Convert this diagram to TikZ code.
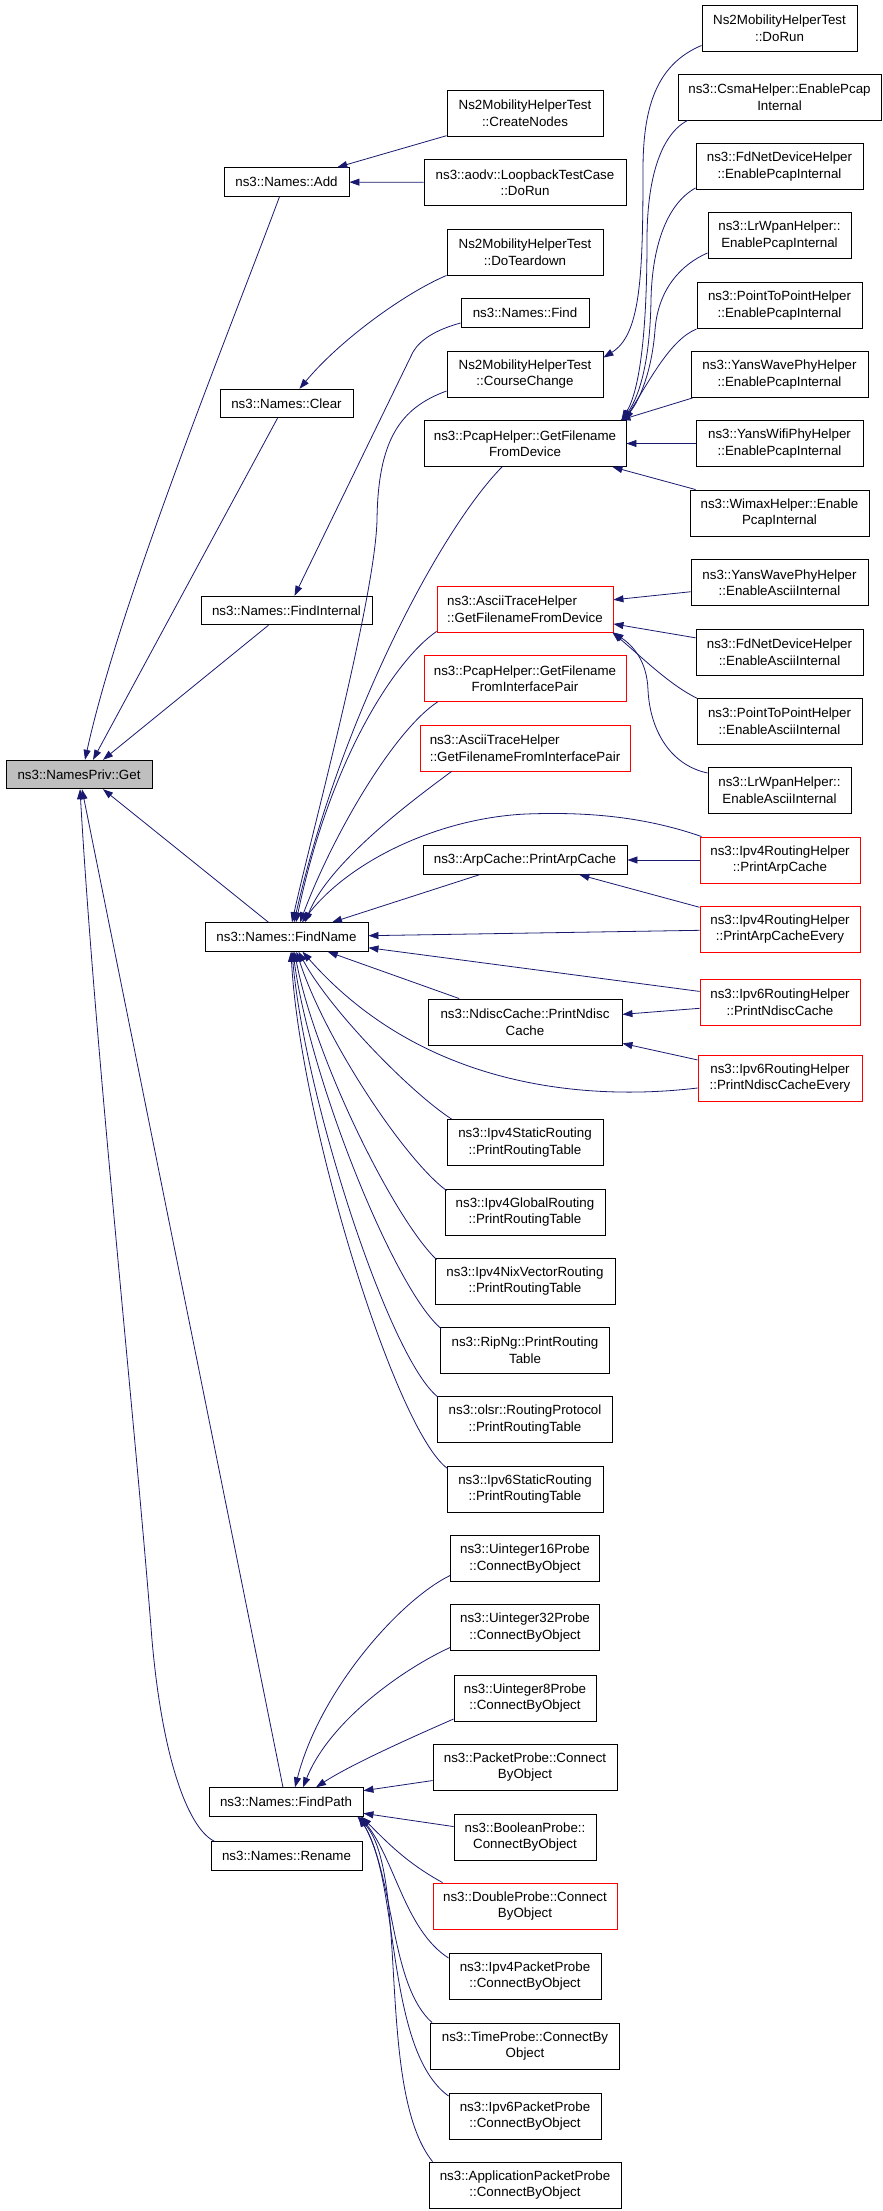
\documentclass[tikz,border=0pt]{standalone}
\usepackage{fontspec}
\setmainfont{Liberation Sans}
\usetikzlibrary{arrows.meta,calc}
\definecolor{edgeblue}{HTML}{191970}
\definecolor{getgray}{HTML}{BFBFBF}
\newcommand\gvfont{\fontsize{13.33}{16.5}\selectfont}
\begin{document}
\begin{tikzpicture}[x=1pt,y=-1pt,
 box/.style={draw=black,line width=0.9pt,fill=white,inner xsep=2pt,inner ysep=1pt,align=center,font=\gvfont,text=black},
 one/.style={box,minimum height=28.5},
 two/.style={box,minimum height=46},
 hot/.style={draw=red},
 link/.style={draw=edgeblue,line width=0.8pt,-{Triangle[length=10pt,width=7pt]}},
]
\useasboundingbox[fill=white] (0,0) rectangle (883,2211);
% left column
\node[one,fill=getgray,minimum width=146] (get) at (79,774.5) {ns3::NamesPriv::Get};
\node[one,minimum width=125] (add) at (286.5,182) {ns3::Names::Add};
\node[one,minimum width=133] (clear) at (286.5,403.5) {ns3::Names::Clear};
\node[one,minimum width=171] (findint) at (286.5,610.5) {ns3::Names::FindInternal};
\node[one,minimum width=163] (findname) at (286.5,937) {ns3::Names::FindName};
\node[one,minimum width=154] (findpath) at (286,1802) {ns3::Names::FindPath};
\node[one,minimum width=151] (rename) at (286.5,1856) {ns3::Names::Rename};
% middle column
\node[two,minimum width=156] (createnodes) at (525,113) {Ns2MobilityHelperTest\\::CreateNodes};
\node[two,minimum width=202] (aodv) at (525,182.5) {ns3::aodv::LoopbackTestCase\\::DoRun};
\node[two,minimum width=156] (teardown) at (525,252) {Ns2MobilityHelperTest\\::DoTeardown};
\node[one,minimum width=128] (find) at (525,313) {ns3::Names::Find};
\node[two,minimum width=156] (course) at (525,374) {Ns2MobilityHelperTest\\::CourseChange};
\node[two,minimum width=202] (pcapdev) at (525,443.5) {ns3::PcapHelper::GetFilename\\FromDevice};
\node[two,hot,align=left,minimum width=176] (asciidev) at (525,609) {ns3::AsciiTraceHelper\\::GetFilenameFromDevice};
\node[two,hot,minimum width=202] (pcapip) at (525,678.5) {ns3::PcapHelper::GetFilename\\FromInterfacePair};
\node[two,hot,align=left,minimum width=210] (asciiip) at (525,748) {ns3::AsciiTraceHelper\\::GetFilenameFromInterfacePair};
\node[one,minimum width=204] (arp) at (525,860) {ns3::ArpCache::PrintArpCache};
\node[two,minimum width=194] (ndisc) at (525,1022) {ns3::NdiscCache::PrintNdisc\\Cache};
\node[two,minimum width=156] (v4static) at (525,1142.5) {ns3::Ipv4StaticRouting\\::PrintRoutingTable};
\node[two,minimum width=160] (v4global) at (525,1212) {ns3::Ipv4GlobalRouting\\::PrintRoutingTable};
\node[two,minimum width=180] (nix) at (525,1281) {ns3::Ipv4NixVectorRouting\\::PrintRoutingTable};
\node[two,minimum width=169] (ripng) at (525,1350) {ns3::RipNg::PrintRouting\\Table};
\node[two,minimum width=175] (olsr) at (525,1419.5) {ns3::olsr::RoutingProtocol\\::PrintRoutingTable};
\node[two,minimum width=156] (v6static) at (525,1489) {ns3::Ipv6StaticRouting\\::PrintRoutingTable};
\node[two,minimum width=149] (u16) at (525,1558.5) {ns3::Uinteger16Probe\\::ConnectByObject};
\node[two,minimum width=149] (u32) at (525,1627.5) {ns3::Uinteger32Probe\\::ConnectByObject};
\node[two,minimum width=142] (u8) at (525,1698) {ns3::Uinteger8Probe\\::ConnectByObject};
\node[two,minimum width=184] (packet) at (525,1767) {ns3::PacketProbe::Connect\\ByObject};
\node[two,minimum width=142] (boolean) at (525,1837) {ns3::BooleanProbe::\\ConnectByObject};
\node[two,hot,minimum width=184] (double) at (525,1906) {ns3::DoubleProbe::Connect\\ByObject};
\node[two,minimum width=152] (v4packet) at (525,1976) {ns3::Ipv4PacketProbe\\::ConnectByObject};
\node[two,minimum width=189] (time) at (525,2046) {ns3::TimeProbe::ConnectBy\\Object};
\node[two,minimum width=152] (v6packet) at (525,2116) {ns3::Ipv6PacketProbe\\::ConnectByObject};
\node[two,minimum width=192] (app) at (525,2185) {ns3::ApplicationPacketProbe\\::ConnectByObject};
% right column
\node[two,minimum width=155] (dorun) at (779.5,28) {Ns2MobilityHelperTest\\::DoRun};
\node[two,minimum width=203] (csma) at (779.5,97) {ns3::CsmaHelper::EnablePcap\\Internal};
\node[two,minimum width=167] (fdpcap) at (779.5,166.5) {ns3::FdNetDeviceHelper\\::EnablePcapInternal};
\node[two,minimum width=143] (lrpcap) at (779.5,235.5) {ns3::LrWpanHelper::\\EnablePcapInternal};
\node[two,minimum width=165] (p2ppcap) at (779.5,305.5) {ns3::PointToPointHelper\\::EnablePcapInternal};
\node[two,minimum width=177] (wavepcap) at (779.5,374.5) {ns3::YansWavePhyHelper\\::EnablePcapInternal};
\node[two,minimum width=167] (wifipcap) at (779.5,443.5) {ns3::YansWifiPhyHelper\\::EnablePcapInternal};
\node[two,minimum width=179] (wimax) at (779.5,513) {ns3::WimaxHelper::Enable\\PcapInternal};
\node[two,minimum width=177] (waveascii) at (779.5,582.5) {ns3::YansWavePhyHelper\\::EnableAsciiInternal};
\node[two,minimum width=167] (fdascii) at (779.5,652) {ns3::FdNetDeviceHelper\\::EnableAsciiInternal};
\node[two,minimum width=165] (p2pascii) at (779.5,721) {ns3::PointToPointHelper\\::EnableAsciiInternal};
\node[two,minimum width=143] (lrascii) at (779.5,790) {ns3::LrWpanHelper::\\EnableAsciiInternal};
\node[two,hot,minimum width=160] (v4rharp) at (780,860) {ns3::Ipv4RoutingHelper\\::PrintArpCache};
\node[two,hot,minimum width=160] (v4rhevery) at (780,929) {ns3::Ipv4RoutingHelper\\::PrintArpCacheEvery};
\node[two,hot,minimum width=160] (v6rhndisc) at (780,1002) {ns3::Ipv6RoutingHelper\\::PrintNdiscCache};
\node[two,hot,minimum width=164] (v6rhevery) at (780,1078) {ns3::Ipv6RoutingHelper\\::PrintNdiscCacheEvery};
% edges into NamesPriv::Get
\draw[link] ($(add.south)+(-7,0)$) .. controls (230,330) and (120,600) .. ($(get.north)+(6,0)$);
\draw[link] ($(clear.south)+(-9,0)$) -- ($(get.north)+(14,0)$);
\draw[link] ($(findint.south)+(-18,0)$) -- ($(get.north)+(24,0)$);
\draw[link] ($(findname.north)+(-18,0)$) -- ($(get.south)+(24,0)$);
\draw[link] ($(findpath.north)+(-3,0)$) -- ($(get.south)+(3,0)$);
\draw[link] ($(rename.north west)+(4,0)$) .. controls (190,1830) and (163,1765) .. (152,1640) .. controls (135,1420) and (95,1050) .. ($(get.south)+(1,0)$);
% into Add, Clear, FindInternal
\draw[link] (createnodes) -- (add);
\draw[link] (aodv) -- (add);
\draw[link] (teardown.south west) .. controls (405,293) and (340,340) .. ($(clear.north)+(13,0)$);
\draw[link] ($(find.west)+(0,10)$) .. controls (435,330) and (420,340) .. (413,352) -- ($(findint.north)+(8,0)$);
% into CourseChange and PcapHelper::GetFilenameFromDevice
\draw[link] ($(dorun.south west)+(0,-6)$) .. controls (655,65) and (643,110) .. (643,170) .. controls (643,280) and (640,335) .. ($(course.north east)+(0,7)$);
\draw[link] ($(csma.south west)+(10,0)$) .. controls (660,135) and (647,180) .. (647,240) .. controls (647,330) and (640,390) .. ($(pcapdev.north east)+(-5,0)$);
\draw[link] ($(fdpcap.south west)+(0,-2)$) .. controls (665,205) and (652,250) .. (651,300) .. controls (650,360) and (640,395) .. ($(pcapdev.north east)+(-4,0)$);
\draw[link] ($(lrpcap.south west)+(0,-6)$) .. controls (680,265) and (658,290) .. (655,330) .. controls (652,370) and (640,400) .. ($(pcapdev.north east)+(-3,0)$);
\draw[link] (p2ppcap.south west) .. controls (670,340) and (650,380) .. ($(pcapdev.north east)+(-2,0)$);
\draw[link] ($(wavepcap.south west)+(2,0)$) -- ($(pcapdev.north east)+(-6,0)$);
\draw[link] (wifipcap) -- (pcapdev);
\draw[link] ($(wimax.north west)+(6,0)$) -- ($(pcapdev.south east)+(-14,0)$);
% into AsciiTraceHelper::GetFilenameFromDevice
\draw[link] (waveascii) -- (asciidev);
\draw[link] (fdascii) -- (asciidev);
\draw[link] ($(p2pascii.north west)+(1,1)$) .. controls (670,685) and (645,660) .. ($(asciidev.south east)+(-1,0)$);
\draw[link] ($(lrascii.west)+(0,-17)$) .. controls (670,765) and (650,730) .. (648,690) .. controls (647,660) and (632,645) .. (asciidev.south east);
% into FindName
\draw[link] ($(course.west)+(0,17)$) .. controls (400,408) and (378,440) .. (377,520) .. controls (375,600) and (310,840) .. ($(findname.north)+(5.5,0)$);
\draw[link] ($(pcapdev.south)+(-23,0)$) .. controls (440,530) and (340,720) .. ($(findname.north)+(7.5,0)$);
\draw[link] ($(asciidev.south west)+(0,-1)$) .. controls (395,660) and (330,760) .. ($(findname.north)+(9.5,0)$);
\draw[link] ($(pcapip.south west)+(14,0)$) .. controls (395,730) and (335,830) .. ($(findname.north)+(13.5,0)$);
\draw[link] ($(asciiip.south west)+(32,0)$) .. controls (420,795) and (330,860) .. ($(findname.north)+(18.5,0)$);
\draw[link] ($(v4rharp.north west)+(2,0)$) .. controls (640,815) and (580,812) .. (526,814) .. controls (440,818) and (350,860) .. ($(findname.north)+(15.5,0)$);
\draw[link] (v4rharp) -- (arp);
\draw[link] (arp) -- (findname);
\draw[link] (v4rhevery) -- (arp);
\draw[link] (v4rhevery) -- (findname);
\draw[link] (v6rhndisc) -- (findname);
\draw[link] (v6rhndisc) -- (ndisc);
\draw[link] (ndisc) -- (findname);
\draw[link] (v6rhevery) -- (ndisc);
\draw[link] ($(v6rhevery.west)+(0,10)$) .. controls (580,1102) and (420,1085) .. ($(findname.south)+(16,0)$);
\draw[link] ($(v4static.north west)+(5,0)$) .. controls (410,1092) and (330,1010) .. ($(findname.south)+(12,0)$);
\draw[link] ($(v4global.north west)+(2,2)$) .. controls (405,1160) and (325,1040) .. ($(findname.south)+(10,0)$);
\draw[link] ($(nix.north west)+(2,2)$) .. controls (395,1220) and (315,1060) .. ($(findname.south)+(8,0)$);
\draw[link] ($(ripng.north west)+(1,2)$) .. controls (395,1290) and (310,1080) .. ($(findname.south)+(6.5,0)$);
\draw[link] ($(olsr.north west)+(1,1)$) .. controls (390,1360) and (305,1100) .. ($(findname.south)+(5.5,0)$);
\draw[link] ($(v6static.north west)+(1,3)$) .. controls (395,1430) and (300,1120) .. ($(findname.south)+(4.5,0)$);
% into FindPath
\draw[link] ($(u16.west)+(0,17)$) .. controls (400,1600) and (320,1690) .. ($(findpath.north)+(9,0)$);
\draw[link] ($(u32.west)+(0,20)$) .. controls (405,1668) and (330,1720) .. ($(findpath.north)+(17,0)$);
\draw[link] ($(u8.west)+(0,21)$) .. controls (410,1738) and (350,1765) .. ($(findpath.north)+(30,0)$);
\draw[link] (packet) -- (findpath);
\draw[link] (boolean) -- (findpath);
\draw[link] ($(double.north west)+(10,0)$) .. controls (405,1862) and (385,1840) .. ($(findpath.south east)+(-2,0)$);
\draw[link] ($(v4packet.west)+(0,-18)$) .. controls (405,1930) and (395,1860) .. ($(findpath.south east)+(-3,0)$);
\draw[link] ($(time.north west)+(2,0)$) .. controls (390,1985) and (395,1880) .. ($(findpath.south east)+(-4,0)$);
\draw[link] ($(v6packet.west)+(0,-20)$) .. controls (385,2050) and (400,1880) .. ($(findpath.south east)+(-5,0)$);
\draw[link] ($(app.north west)+(4,0)$) .. controls (375,2090) and (410,1870) .. ($(findpath.south east)+(-6,0)$);
\end{tikzpicture}
\end{document}
